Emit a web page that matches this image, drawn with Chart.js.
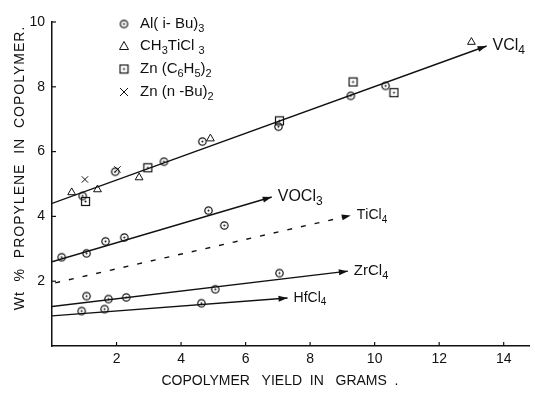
<!DOCTYPE html>
<html>
<head>
<meta charset="utf-8">
<script src="https://cdn.jsdelivr.net/npm/chart.js@4.4.0/dist/chart.umd.min.js"></script>
<style>
  html, body { margin: 0; padding: 0; background: #fff; }
  #wrap { width: 535px; height: 395px; }
</style>
</head>
<body>
<div id="wrap"><canvas id="chart"></canvas></div>
<script>
// '_' before a character marks it as a subscript
var seriesNames = ['Al( i- Bu)_3', 'CH_3TiCl _3', 'Zn (C_6H_5)_2', 'Zn (n -Bu)_2'];

var alX = [0.95, 1.96, 3.47, 4.66, 7.02, 9.26, 10.34, 0.3, 1.07, 1.66, 2.24, 4.85, 5.34, 1.07, 1.75, 2.3, 5.06, 7.05, 0.92, 1.63, 4.63];
var alY = [4.63, 5.38, 5.69, 6.31, 6.77, 7.72, 8.03, 2.74, 2.86, 3.23, 3.35, 4.18, 3.72, 1.54, 1.45, 1.5, 1.75, 2.25, 1.08, 1.14, 1.32];
var triX = [0.61, 1.41, 2.7, 4.91, 13.0];
var triY = [4.74, 4.83, 5.2, 6.4, 9.38];
var sqX = [1.04, 2.97, 7.05, 9.33, 10.6];
var sqY = [4.46, 5.5, 6.95, 8.15, 7.82];
var crossX = [1.02, 2.03];
var crossY = [5.14, 5.45];

// fitted lines, each ending in an arrow
var lineNames = ['VCl_4', 'VOCl_3', 'TiCl_4', 'ZrCl_4', 'HfCl_4'];
var lineX0 = [0, 0, 0.1, 0, 0];
var lineY0 = [4.4, 2.6, 1.95, 1.22, 0.93];
var lineX1 = [13.47, 6.81, 9.26, 9.17, 7.3];
var lineY1 = [9.26, 4.6, 4.03, 2.31, 1.48];

var xTicks = [2, 4, 6, 8, 10, 12, 14];
var yTicks = [2, 4, 6, 8, 10];

var FONT = '"Liberation Sans", Arial, sans-serif';
var INK = '#111';

function pts(xs, ys) {
  return xs.map(function(x, i) { return { x: x, y: ys[i] }; });
}

function markCanvas(kind) {
  var c = document.createElement('canvas');
  c.width = 11; c.height = 11;
  var g = c.getContext('2d');
  g.strokeStyle = INK; g.fillStyle = INK; g.lineWidth = 1.2;
  if (kind === 'circle') {
    g.beginPath(); g.arc(5.5, 5.5, 3.7, 0, Math.PI * 2); g.stroke();
  } else {
    g.strokeRect(1.5, 1.5, 8, 8);
  }
  g.beginPath(); g.arc(5.5, 5.5, 1, 0, Math.PI * 2); g.fill();
  return c;
}
var circleImg = markCanvas('circle');
var squareImg = markCanvas('square');

function drawRich(ctx, str, x, y, size) {
  var cx = x;
  for (var i = 0; i < str.length; i++) {
    var ch = str[i], sub = false;
    if (ch === '_') { sub = true; ch = str[++i]; }
    var s = sub ? Math.round(size * 0.72) : size;
    ctx.font = s + 'px ' + FONT;
    ctx.fillText(ch, cx, sub ? y + size * 0.32 : y);
    cx += ctx.measureText(ch).width;
  }
}

var datasets = [];
lineNames.forEach(function(name, i) {
  datasets.push({
    label: name,
    data: [{ x: lineX0[i], y: lineY0[i] }, { x: lineX1[i], y: lineY1[i] }],
    showLine: true,
    borderColor: INK,
    borderWidth: 1.4,
    borderDash: name === 'TiCl_4' ? [5, 9] : [],
    pointRadius: 0
  });
});
datasets.push({ label: seriesNames[0], data: pts(alX, alY), pointStyle: circleImg });
datasets.push({ label: seriesNames[1], data: pts(triX, triY), pointStyle: 'triangle', radius: 4.5,
  backgroundColor: 'rgba(255,255,255,0)', borderColor: INK, borderWidth: 1 });
datasets.push({ label: seriesNames[2], data: pts(sqX, sqY), pointStyle: squareImg });
datasets.push({ label: seriesNames[3], data: pts(crossX, crossY), pointStyle: 'crossRot', radius: 4.5,
  borderColor: INK, borderWidth: 1 });

var labelSize = { 'VCl_4': 16, 'VOCl_3': 16, 'TiCl_4': 14, 'ZrCl_4': 15, 'HfCl_4': 14 };

var decorations = {
  id: 'decorations',
  afterDraw: function(chart) {
    var ctx = chart.ctx, xs = chart.scales.x, ys = chart.scales.y, a = chart.chartArea;
    ctx.save();
    ctx.strokeStyle = INK; ctx.fillStyle = INK; ctx.lineWidth = 1.2;

    // inward tick marks
    xTicks.forEach(function(v) {
      var px = xs.getPixelForValue(v);
      ctx.beginPath(); ctx.moveTo(px, a.bottom); ctx.lineTo(px, a.bottom - 4); ctx.stroke();
    });
    yTicks.forEach(function(v) {
      var py = ys.getPixelForValue(v);
      ctx.beginPath(); ctx.moveTo(a.left, py); ctx.lineTo(a.left + 4, py); ctx.stroke();
    });

    // arrowheads and line labels
    ctx.textBaseline = 'middle';
    lineNames.forEach(function(name, i) {
      var x0 = xs.getPixelForValue(lineX0[i]), y0 = ys.getPixelForValue(lineY0[i]);
      var x1 = xs.getPixelForValue(lineX1[i]), y1 = ys.getPixelForValue(lineY1[i]);
      var ang = Math.atan2(y1 - y0, x1 - x0);
      ctx.save();
      ctx.translate(x1, y1); ctx.rotate(ang);
      ctx.beginPath(); ctx.moveTo(0, 0); ctx.lineTo(-9, -3); ctx.lineTo(-9, 3); ctx.closePath(); ctx.fill();
      ctx.restore();
      drawRich(ctx, name, x1 + 6, y1, labelSize[name]);
    });

    // legend
    var lx = 124, rows = [24, 46, 69, 92];
    ctx.drawImage(circleImg, lx - 5.5, rows[0] - 5.5);
    ctx.lineWidth = 1;
    ctx.beginPath();
    ctx.moveTo(lx, rows[1] - 4.5); ctx.lineTo(lx + 4.5, rows[1] + 3.5); ctx.lineTo(lx - 4.5, rows[1] + 3.5); ctx.closePath();
    ctx.stroke();
    ctx.drawImage(squareImg, lx - 5.5, rows[2] - 5.5);
    ctx.beginPath();
    ctx.moveTo(lx - 4, rows[3] - 4); ctx.lineTo(lx + 4, rows[3] + 4);
    ctx.moveTo(lx + 4, rows[3] - 4); ctx.lineTo(lx - 4, rows[3] + 4);
    ctx.stroke();
    seriesNames.forEach(function(n, i) { drawRich(ctx, n, 140, rows[i], 15); });

    // axis titles
    ctx.font = '14px ' + FONT;
    ctx.textAlign = 'center';
    ctx.fillText('COPOLYMER   YIELD  IN   GRAMS  .', 280, 381);
    ctx.save();
    ctx.translate(20, 168); ctx.rotate(-Math.PI / 2);
    ctx.letterSpacing = '1px';
    ctx.fillText('Wt  %  PROPYLENE  IN  COPOLYMER.', 0, 0);
    ctx.restore();

    ctx.restore();
  }
};

new Chart(document.getElementById('chart'), {
  type: 'scatter',
  data: { datasets: datasets },
  options: {
    responsive: true,
    maintainAspectRatio: false,
    animation: false,
    layout: { padding: { top: 22, right: 1, left: 0, bottom: 0 } },
    plugins: { legend: { display: false }, tooltip: { enabled: false } },
    scales: {
      x: {
        type: 'linear', min: 0, max: 14.8,
        grid: { display: false, drawTicks: false },
        border: { color: INK, width: 1.5 },
        afterBuildTicks: function(s) { s.ticks = xTicks.map(function(v) { return { value: v }; }); },
        ticks: {
          padding: 5, autoSkip: false, maxRotation: 0, color: INK,
          font: { size: 14, family: FONT }
        },
        afterFit: function(s) { s.height = 49; }
      },
      y: {
        min: 0, max: 10,
        grid: { display: false, drawTicks: false },
        border: { color: INK, width: 1.5 },
        afterBuildTicks: function(s) { s.ticks = yTicks.map(function(v) { return { value: v }; }); },
        ticks: {
          padding: 7, color: INK,
          font: { size: 14, family: FONT }
        },
        afterFit: function(s) { s.width = 52; }
      }
    }
  },
  plugins: [decorations]
});
</script>
</body>
</html>
